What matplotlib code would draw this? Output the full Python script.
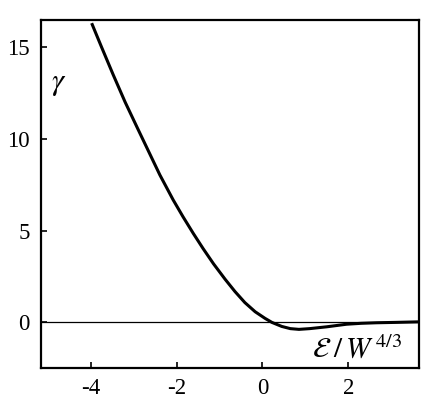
import matplotlib
matplotlib.use("Agg")
import matplotlib.pyplot as plt

# ── Data ──────────────────────────────────────────────────────────────────────
energy = [-3.98, -3.75, -3.48, -3.2, -2.91, -2.65, -2.39, -2.08, -1.85, -1.61,
          -1.38, -1.14, -0.87, -0.64, -0.41, -0.17, 0.06, 0.22, 0.45, 0.65,
          0.85, 1.1, 1.5, 1.96, 2.3, 2.66, 3.1, 3.65]
gamma = [16.3, 15.0, 13.5, 12.0, 10.57, 9.3, 8.03, 6.67, 5.75, 4.84,
         4.01, 3.19, 2.35, 1.68, 1.08, 0.58, 0.22, 0.0, -0.22, -0.34,
         -0.38, -0.34, -0.24, -0.1, -0.05, -0.02, 0.0, 0.03]

xticks = [-4, -2, 0, 2]
yticks = [0, 5, 10, 15]

# ── Plot ──────────────────────────────────────────────────────────────────────
plt.rcParams["font.family"] = ["Liberation Serif", "DejaVu Serif"]
plt.rcParams["mathtext.fontset"] = "stix"

fig = plt.figure(figsize=(4.43, 4.09), dpi=100)
ax = fig.add_axes([0.0926, 0.100, 0.8534, 0.851])

ax.axhline(0, color="black", lw=0.9)
ax.plot(energy, gamma, color="black", lw=2.2, solid_capstyle="butt",
        solid_joinstyle="round")

ax.set_xlim(-5.16, 3.65)
ax.set_ylim(-2.49, 16.47)
ax.set_xticks(xticks)
ax.set_yticks(yticks)
ax.set_xticklabels([str(t) for t in xticks])
ax.set_yticklabels([str(t) for t in yticks])
ax.tick_params(direction="in", length=4, width=1.2, labelsize=16.5,
               top=False, right=False)
ax.tick_params(axis="x", pad=7)
ax.tick_params(axis="y", pad=8)
for s in ax.spines.values():
    s.set_linewidth(1.6)

ax.text(-4.76, 13.0, r"$\gamma$", fontsize=22, ha="center", va="center")
ax.text(2.21, -1.5, r"$\mathcal{E}\;/\,W^{\,4/3}$", fontsize=21,
        ha="center", va="center")

fig.savefig("out.png", dpi=100)
